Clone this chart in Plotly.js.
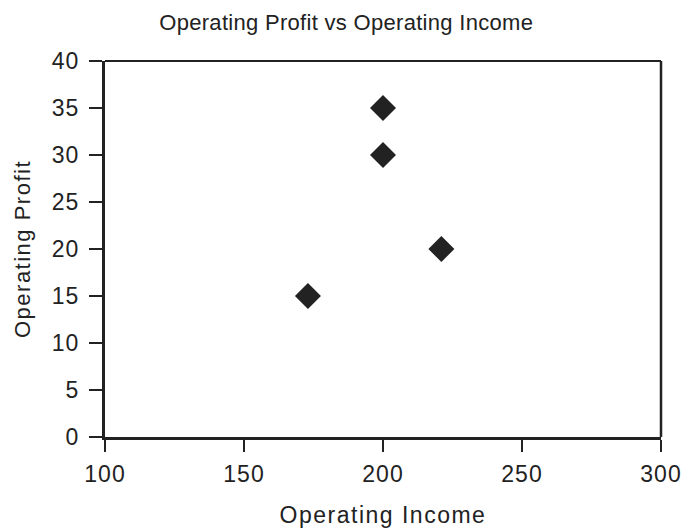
<!DOCTYPE html>
<html><head><meta charset="utf-8">
<script src="https://cdn.plot.ly/plotly-3.0.1.min.js"></script>
<style>
html,body{margin:0;padding:0;background:#fff}#chart{width:687px;height:528px}
#chart .xtick text, #chart .ytick text{letter-spacing:1px}
#chart .xtitle, #chart .ytitle{letter-spacing:1.5px}
#chart .gtitle{letter-spacing:0.3px}
</style>
</head><body><div id="chart"></div>
<script>
const operatingIncome = [173, 200, 200, 221];
const operatingProfit = [15, 30, 35, 20];
const xTicks = [100, 150, 200, 250, 300];
const yTicks = [0, 5, 10, 15, 20, 25, 30, 35, 40];

const fontFam = '"Liberation Sans", Arial, sans-serif';
const ink = '#222222';

Plotly.newPlot('chart', [{
  x: operatingIncome, y: operatingProfit, type: 'scatter', mode: 'markers',
  marker: {symbol: 'diamond', size: 20, color: ink, line: {width: 0}},
  hoverinfo: 'x+y', showlegend: false
}], {
  width: 687, height: 528,
  margin: {l: 105, r: 26, t: 61, b: 91},
  paper_bgcolor: '#fff', plot_bgcolor: '#fff',
  font: {family: fontFam, color: ink},
  title: {text: 'Operating Profit vs Operating Income', font: {size: 22, color: ink}, x: 0.504, xanchor: 'center', y: 0.958, yanchor: 'middle'},
  xaxis: {
    range: [100, 300], tickvals: xTicks, ticktext: xTicks.map(String),
    showgrid: false, zeroline: false, showline: true, linecolor: ink, linewidth: 3,
    ticks: 'outside', ticklen: 12, tickwidth: 2, tickcolor: ink,
    tickfont: {size: 23, color: ink}, ticklabelstandoff: 2,
    title: {text: 'Operating Income', font: {size: 23, color: ink}, standoff: 22}
  },
  yaxis: {
    range: [0, 40], tickvals: yTicks, ticktext: yTicks.map(String),
    showgrid: false, zeroline: false, showline: true, linecolor: ink, linewidth: 3,
    ticks: 'outside', ticklen: 13, tickwidth: 2, tickcolor: ink,
    tickfont: {size: 23, color: ink}, ticklabelstandoff: 5,
    title: {text: 'Operating Profit', font: {size: 22, color: ink}, standoff: 18}
  },
  shapes: [
    {type: 'line', xref: 'paper', yref: 'paper', x0: 0, x1: 1, y0: 1, y1: 1, line: {color: ink, width: 2}},
    {type: 'line', xref: 'paper', yref: 'paper', x0: 1, x1: 1, y0: 0, y1: 1, line: {color: ink, width: 2.5}}
  ]
}, {displayModeBar: false, staticPlot: true});
</script></body></html>
